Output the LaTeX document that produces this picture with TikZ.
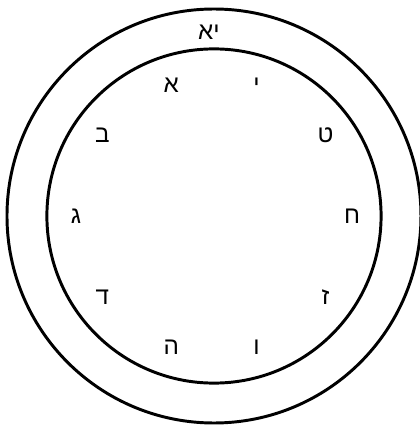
\documentclass[tikz,border=0pt]{standalone}
\usepackage{fontspec}
\usepackage{tkz-euclide}
\newfontfamily\hebfont[Script=Hebrew]{Liberation Sans}
\TeXXeTstate=1
\tikzset{letter/.style={font=\hebfont\fontsize{23}{27}\selectfont,inner sep=0pt}}

\begin{document}
\begin{tikzpicture}
\useasboundingbox (-7.133,-7) rectangle (6.867,7.2);

\tkzDefPoints{0/0/O,6.9/0/A,5.57/0/B}
\tkzDefPoint(108:4.6){S}
\tkzDefRegPolygon[center,sides=10](O,S)

\tkzDrawCircle[line width=2.8pt,black](O,A)
\tkzDrawCircle[line width=2.8pt,black](O,B)

\node[letter] (alef)   at (P1)  {א};
\node[letter] (bet)    at (P2)  {ב};
\node[letter] (gimel)  at (P3)  {ג};
\node[letter] (dalet)  at (P4)  {ד};
\node[letter] (he)     at (P5)  {ה};
\node[letter] (vav)    at (P6)  {ו};
\node[letter] (zayin)  at (P7)  {ז};
\node[letter] (het)    at (P8)  {ח};
\node[letter] (tet)    at (P9)  {ט};
\node[letter] (yod)    at (P10) {י};

\node[letter] (yodalef) at (-0.17,6.13) {\beginR יא\endR};

\end{tikzpicture}
\end{document}
